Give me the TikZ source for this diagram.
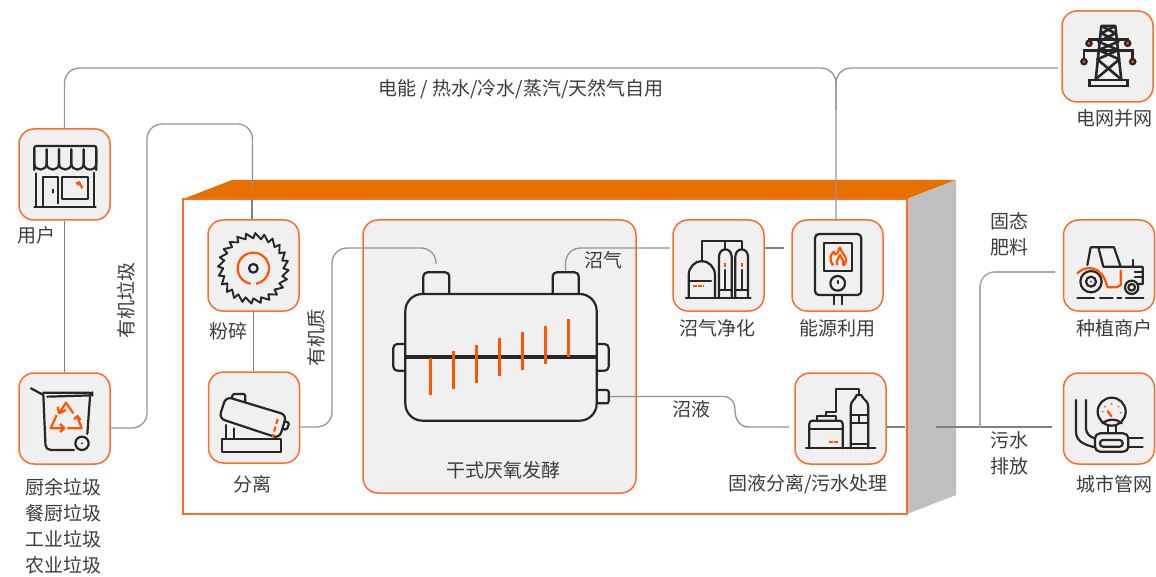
\documentclass[tikz,border=0pt]{standalone}
\usepackage{fontspec}
\setmainfont{Noto Sans CJK SC}
\usetikzlibrary{calc}
\definecolor{orbox}{HTML}{FF6B2C}
\definecolor{orfill}{HTML}{E87000}
\definecolor{oricon}{HTML}{FF5500}
\definecolor{sidegray}{HTML}{BFBFBF}
\definecolor{boxfill}{HTML}{F0F0F0}
\definecolor{ink}{HTML}{262626}
\definecolor{txt}{HTML}{3C3C3C}
\definecolor{lineg}{HTML}{959595}
\definecolor{lined}{HTML}{808080}
\tikzset{
 iconbox/.style={draw=orbox,fill=boxfill,line width=1.5pt,rounded corners=15pt,minimum width=91pt,minimum height=91pt,inner sep=0pt},
 lab/.style={text=txt,font=\fontsize{19}{22}\selectfont,inner sep=0pt},
 thin line/.style={draw=lineg,line width=1.3pt,rounded corners=15pt},
 dark line/.style={draw=lined,line width=1.8pt},
 ic/.style={draw=ink,line width=2.2pt,line cap=round,line join=round},
 io/.style={draw=oricon,line width=2.2pt},
}
\begin{document}
\begin{tikzpicture}[x=1pt,y=-1pt]
\useasboundingbox (0,0) rectangle (1156,577);
% cabinet
\fill[orfill] (183,199) -- (232,180) -- (956,180) -- (907,199) -- cycle;
\fill[sidegray] (907,199) -- (956,180) -- (956,495) -- (907,514) -- cycle;
\node[draw=orbox,line width=1.5pt,fill=white,minimum width=724pt,minimum height=315pt,inner sep=0pt] (cab) at (545,356.5) {};
% boxes
\node[iconbox] (user) at (64.5,174.5) {};
\node[iconbox] (waste) at (64.5,418.5) {};
\node[iconbox] (crush) at (253.5,265.5) {};
\node[iconbox] (sep) at (254,417.5) {};
\node[iconbox,minimum width=273pt,minimum height=273pt] (dig) at (499.5,356.5) {};
\node[iconbox] (pur) at (718.5,265.5) {};
\node[iconbox] (energy) at (837.5,265.5) {};
\node[iconbox] (sew) at (840.5,418.5) {};
\node[iconbox] (grid) at (1107.5,56.5) {};
\node[iconbox] (farm) at (1109,265.5) {};
\node[iconbox] (city) at (1109,418.5) {};
% free ends
\coordinate (digin) at (436,264);
\coordinate (gasout) at (565.5,271);
\coordinate (liqout) at (610,396.5);
\coordinate (liqin) at (789,427);
\coordinate (crushtop) at (253,187);
\coordinate (crushtopb) at (252,199);
\coordinate (purr) at (784,248);
\coordinate (sewr) at (905,427);
\coordinate (sewo) at (936,427);
\coordinate (cityin) at (1052,427);
\coordinate (farmin) at (1055,272);
\coordinate (branch) at (980,427);
\coordinate (gridin) at (1058,68);
% connectors
\draw[thin line] (user.north) -- (64.5,68) -- (836,68) -- ([xshift=-1.5pt]energy.north);
\draw[thin line] (gridin) -- (836,68) -- (836,110);
\draw[dark line] (user.south) -- (waste.north);
\draw[thin line] ([yshift=-9.5pt]waste.east) -- (147,428) -- (147,124) -- (252.5,124) -- (252.5,187);
\draw[dark line] (crushtopb) -- ([xshift=-1.5pt]crush.north);
\draw[dark line] (crush.south) -- ([xshift=-.5pt]sep.north);
\draw[thin line] ([yshift=-9.5pt]sep.east) -- (332,427) -- (332,248) -- (436,248) -- (digin);
\draw[thin line] (gasout) -- (565.5,248) -- (670,248);
\draw[dark line] ([yshift=17.5pt]pur.east) -- (purr);
\draw[draw=lineg,line width=1.3pt] (liqout) -- (723,396.5) .. controls (731,396.5) and (735,402) .. (735,410) .. controls (735,420) and (740,427) .. (749,427) -- (liqin);
\draw[dark line] ([yshift=-8.5pt]sew.east) -- (sewr);
\draw[dark line] (sewo) -- (cityin);
\draw[draw=sidegray!90!black,line width=1.6pt,rounded corners=15pt] (branch) -- (980,272) -- (farmin);
% labels
\node[lab] (l1) at (521,89) {电能~/ 热水/冷水/蒸汽/天然气自用};
\node[lab] (l2) at (36,235) {用户};
\node[lab,rotate=90] (l3) at (126,300) {有机垃圾};
\node[lab] (l4) at (228,331) {粉碎};
\node[lab,rotate=90] (l5) at (316,338) {有机质};
\node[lab] (l6) at (252,484) {分离};
\node[lab] (l7) at (503,470) {干式厌氧发酵};
\node[lab] (l8) at (603,260) {沼气};
\node[lab] (l9) at (717,328) {沼气净化};
\node[lab] (l10) at (837,328) {能源利用};
\node[lab] (l11) at (691,409) {沼液};
\node[lab] (l12) at (808,484) {固液分离/污水处理};
\node[lab] (l13) at (1009,221) {固态};
\node[lab] (l14) at (1009,247) {肥料};
\node[lab] (l15) at (1009,440) {污水};
\node[lab] (l16) at (1009,466) {排放};
\node[lab] (l17) at (1114,328) {种植商户};
\node[lab] (l18) at (1114,484) {城市管网};
\node[lab] (l19) at (1114,118) {电网并网};
\node[lab] (l20) at (63,487) {厨余垃圾};
\node[lab] (l21) at (63,513) {餐厨垃圾};
\node[lab] (l22) at (63,539) {工业垃圾};
\node[lab] (l23) at (63,565) {农业垃圾};
% --- icons in zoom 1
\begin{scope}[shift={(0,120)},scale=1/3]
% shop
\draw[ic,rounded corners=2pt] (103,150) -- (103,78) -- (289,78) -- (289,150);
\foreach \a/\b in {103/140,140/177,177/214,214/251,251/289}
 \draw[ic] (\a,88) -- (\a,130) .. controls (\a,155) and (\b,155) .. (\b,130) -- (\b,88);
\draw[ic] (108,160) -- (108,262) (130,262) -- (130,172) -- (175,172) -- (175,250) (281,158) -- (281,262) (103,262) -- (287,262);
\draw[ic] (187,172) rectangle (264,236);
\draw[ic] (160,209) -- (160,218);
\draw[io] (229,187) -- (236,195) (236,184) -- (247,205);
% bin
\draw[ic,rounded corners=3pt] (93,805) -- (130,825) (130,818) -- (277,818) -- (277,826) -- (142,830);
\draw[ic,rounded corners=5pt] (130,825) -- (137,990) -- (222,990);
\draw[ic] (270,830) -- (262,942);
\draw[ic] (246,970) circle[radius=20];
\fill[ink] (246,970) circle[radius=3];
\draw[io,line join=round] (177,880) -- (198,848) -- (220,880) (173,860) -- (177,880) -- (198,870);
\draw[io,line join=round] (170,885) -- (152,925) -- (193,925) (180,912) -- (193,925) -- (180,936);
\draw[io,line join=round] (202,925) -- (245,925) -- (232,890) (222,898) -- (232,888) -- (242,900);
% saw
\begin{scope}[shift={(760,445)}]
\draw[ic,line width=1.9pt,fill=none] (0:90)
 \foreach \a in {0,15,...,345}{ -- (\a+3:106) -- (\a+15:90)} -- cycle;
\draw[io] (100:47) arc[start angle=100,end angle=440,radius=47];
\draw[ic] (0,0) circle[radius=13];
\end{scope}
% separator
\draw[ic,rounded corners=6pt] (678,830) -- (860,885) -- (838,955) -- (657,895) -- cycle;
\draw[ic,rounded corners=1.5pt] (697,835) -- (697,822) -- (736,822) -- (736,845);
\draw[ic,rounded corners=1.5pt] (853,904) -- (868,908) -- (860,930) -- (848,926);
\draw[ic] (667,958) rectangle (843,995);
\draw[ic] (678,915) -- (678,958) (702,925) -- (702,958);
\draw[io,dashed,dash pattern=on 5pt off 3pt] (833,897) -- (818,950);
\end{scope}
% --- digester
\begin{scope}[shift={(360,210)},scale=1/3]
\draw[ic,rounded corners=17pt] (136,252) rectangle (710,632);
\draw[ic,rounded corners=4pt] (190,252) -- (190,187) -- (268,187) -- (268,252);
\draw[ic,rounded corners=4pt] (578,252) -- (578,187) -- (656,187) -- (656,252);
\draw[ic,rounded corners=4pt] (136,402) -- (100,402) -- (100,482) -- (136,482);
\draw[ic,rounded corners=4pt] (710,402) -- (746,402) -- (746,482) -- (710,482);
\draw[ic,rounded corners=2pt] (710,540) -- (746,540) -- (746,580) -- (710,580);
\draw[ink,line width=3.2pt] (136,441) -- (710,441);
\foreach \x/\a/\b in {212/445/555,281/423/537,350/405/519,419/384/498,488/366/480,557/348/462,626/327/441}
 \draw[oricon,line width=3pt] (\x,\a) -- (\x,\b);
\end{scope}
% --- right group
\begin{scope}[shift={(660,210)},scale=1/3]
% purifier
\draw[ic] (126,155) -- (126,93) -- (245,93) -- (245,118) (195,93) -- (195,118);
\draw[ic] (86,262) -- (86,195) .. controls (86,172) and (105,153) .. (125,153) .. controls (146,153) and (165,172) .. (165,195) -- (165,262);
\draw[ic] (88,213) -- (153,213);
\draw[io,dash pattern=on 4pt off 1pt] (100,229) -- (133,229);
\draw[ic] (78,263) -- (272,263);
\foreach \l/\r in {177/215,226/264}{
 \draw[ic] (\l,262) -- (\l,140) .. controls (\l,128) and (\l+8,118) .. ({(\l+\r)/2},118) .. controls (\r-8,118) and (\r,128) .. (\r,140) -- (\r,262);
 \draw[ic] (\l,240) -- (\r,240) ({(\l+\r)/2},180) -- ({(\l+\r)/2},240);
 \draw[io] ({(\l+\r)/2},159) -- ({(\l+\r)/2},172);
}
% boiler
\draw[ic,rounded corners=4pt] (465,72) rectangle (604,255);
\draw[ic] (492,100) rectangle (577,183);
\draw[io,line join=round] (520,166) .. controls (505,150) and (512,130) .. (522,125) .. controls (522,135) and (528,135) .. (532,130) .. controls (534,122) and (538,118) .. (540,112) .. controls (542,128) and (560,135) .. (558,155) .. controls (557,160) and (553,164) .. (550,166) .. controls (552,150) and (544,145) .. (540,135) .. controls (536,145) and (527,150) .. (532,165);
\draw[ic] (533,220) circle[radius=22];
\draw[ic] (533,213) -- (533,220);
\draw[ic] (522,258) -- (522,283) (546,258) -- (546,283);
% treatment
\draw[ic] (438,715) -- (646,715);
\draw[ic,rounded corners=3pt] (448,715) -- (448,632) -- (548,632) -- (548,715);
\draw[ic] (448,657) -- (548,657);
\draw[ic] (470,632) -- (470,618) -- (528,618) -- (528,632);
\draw[ic] (497,618) -- (497,607) -- (527,607) -- (527,538) -- (597,538) -- (597,552);
\draw[io,dash pattern=on 3.5pt off 1.5pt] (508,697) -- (533,697);
\draw[ic] (572,715) -- (572,590) .. controls (572,572) and (587,568) .. (590,555) -- (604,555) .. controls (608,568) and (625,572) .. (625,590) -- (625,715);
\draw[ic] (572,615) -- (625,615) (572,640) -- (625,640) (598,615) -- (598,640) (572,703) -- (625,703);
\end{scope}
% --- pylon
\begin{scope}[shift={(960,0)},scale=1/3]
\draw[ink,line width=2.6pt,line cap=round,line join=round] (424,78) -- (466,78) (424,78) -- (407,240) (466,78) -- (484,240);
\draw[ink,line width=2.6pt,line join=round] (424,78) -- (466,100) -- (415,125) -- (475,150) -- (412,178) -- (480,235);
\draw[ink,line width=2.6pt,line join=round] (466,78) -- (424,100) -- (475,125) -- (415,150) -- (478,178) -- (410,235);
\draw[ink,line width=2.6pt] (387,130) -- (387,118) -- (503,118) -- (503,130);
\draw[ink,line width=2.6pt] (372,185) -- (372,152) -- (518,152) -- (518,185);
\draw[ink,line width=2.6pt] (388,240) rectangle (503,258);
\foreach \x/\y in {387/130,503/130,372/185,518/185}{
 \draw[ink,line width=2.2pt,fill=oricon] (\x,\y) circle[radius=8];
}
\end{scope}
% --- tractor and meter
\begin{scope}[shift={(960,210)},scale=1/3]
\draw[ic] (382,165) -- (392,112) -- (462,112) -- (482,170) (415,112) -- (430,170) -- (545,170) -- (548,172) -- (548,222) -- (535,222);
\draw[ic] (520,150) -- (520,170) (525,185) -- (548,185) (525,200) -- (548,200);
\draw[ic] (393,215) circle[radius=32] (393,215) circle[radius=15];
\fill[ink] (393,215) circle[radius=3];
\draw[ic] (515,232) circle[radius=20] (515,232) circle[radius=10];
\draw[io,line cap=round] (352,190) .. controls (375,165) and (425,165) .. (440,225) -- (444,232) -- (470,232) -- (482,225) -- (482,182);
\draw[ic] (352,263) -- (402,263) (420,263) -- (458,263) (472,263) -- (484,263) (498,263) -- (550,263);
% meter
\draw[ic] (348,570) -- (348,665) .. controls (348,695) and (375,705) .. (405,712);
\draw[ic] (378,570) -- (378,655) .. controls (378,672) and (392,682) .. (405,685);
\draw[ic,rounded corners=5pt] (405,670) rectangle (505,725);
\draw[ic,rounded corners=3pt] (420,690) rectangle (488,710);
\draw[ic] (505,685) -- (548,685) (505,712) -- (548,712);
\draw[ic] (455,605) circle[radius=42];
\draw[ic] (445,646) -- (445,670) (468,646) -- (468,670);
\draw[ic] (428,640) .. controls (445,625) and (470,625) .. (485,640);
\draw[io] (442,602) -- (455,620);
\fill[oricon] (428,605) circle[radius=3] (435,590) circle[radius=3] (455,582) circle[radius=3] (475,590) circle[radius=3] (482,608) circle[radius=3];
\end{scope}
\end{tikzpicture}
\end{document}
